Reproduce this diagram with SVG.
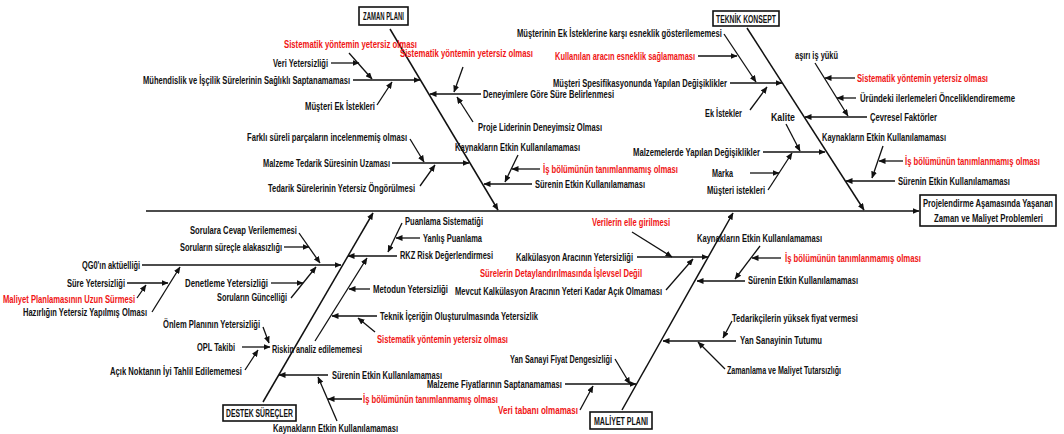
<svg xmlns="http://www.w3.org/2000/svg" width="1064" height="434" viewBox="0 0 1064 434">
<style>
text{font-family:"Liberation Sans Narrow","Liberation Sans",Arial,sans-serif;font-weight:bold;font-size:11px;fill:#111}
.r{fill:#f01414}
.bx{fill:#fff;stroke:#111;stroke-width:1.6}
.c line{stroke:#111;stroke-width:1.3;marker-end:url(#a)}
.c line.m{stroke-width:1.5}
</style>
<defs>
<marker id="a" markerWidth="7" markerHeight="6" refX="6.5" refY="3" orient="auto" markerUnits="userSpaceOnUse"><path d="M0,0 L7,3 L0,6 z" fill="#111"/></marker>
</defs>
<rect width="1064" height="434" fill="#fff"/>
<g id="connectors" class="c">
<line class="m" x1="146" y1="211" x2="919" y2="211"/>
<!-- ZAMAN -->
<line class="m" x1="390" y1="29" x2="498" y2="210"/>
<line x1="353" y1="80" x2="420" y2="80"/>
<line x1="349" y1="53" x2="372" y2="79"/>
<line x1="331" y1="63" x2="359" y2="63"/>
<line x1="377" y1="105" x2="392" y2="82"/>
<line x1="481" y1="94" x2="430" y2="94"/>
<line x1="463" y1="67" x2="454" y2="92"/>
<line x1="473" y1="122" x2="457" y2="97"/>
<line x1="410" y1="139" x2="424" y2="162"/>
<line x1="392" y1="163" x2="469" y2="163"/>
<line x1="420" y1="186" x2="435" y2="165"/>
<line x1="540" y1="169" x2="512" y2="169"/>
<line x1="518" y1="155" x2="505" y2="182"/>
<line x1="532" y1="184" x2="484" y2="184"/>
<!-- TEKNIK -->
<line class="m" x1="747" y1="28" x2="864" y2="210"/>
<line x1="724" y1="34" x2="756" y2="82"/>
<line x1="698" y1="56" x2="737" y2="56"/>
<line x1="730" y1="83" x2="782" y2="83"/>
<line x1="750" y1="110" x2="767" y2="87"/>
<line x1="815" y1="63" x2="848" y2="116"/>
<line x1="855" y1="78" x2="825" y2="78"/>
<line x1="856" y1="98" x2="837" y2="98"/>
<line x1="867" y1="117" x2="805" y2="117"/>
<line x1="786" y1="124" x2="800" y2="151"/>
<line x1="763" y1="152" x2="825" y2="152"/>
<line x1="750" y1="173" x2="779" y2="173"/>
<line x1="768" y1="190" x2="792" y2="153"/>
<line x1="883" y1="146" x2="872" y2="178"/>
<line x1="903" y1="161" x2="879" y2="161"/>
<line x1="895" y1="181" x2="846" y2="181"/>
<!-- DESTEK -->
<line class="m" x1="263" y1="402" x2="373" y2="213"/>
<line x1="299" y1="233" x2="320" y2="263"/>
<line x1="284" y1="247" x2="309" y2="247"/>
<line x1="142" y1="265" x2="341" y2="265"/>
<line x1="271" y1="283" x2="303" y2="283"/>
<line x1="291" y1="298" x2="316" y2="267"/>
<line x1="127" y1="283" x2="168" y2="283"/>
<line x1="152" y1="312" x2="180" y2="267"/>
<line x1="137" y1="298" x2="146" y2="285"/>
<line x1="263" y1="327" x2="269" y2="343"/>
<line x1="242" y1="347" x2="270" y2="347"/>
<line x1="245" y1="370" x2="258" y2="350"/>
<line x1="315" y1="341" x2="367" y2="258"/>
<line x1="402" y1="223" x2="388" y2="252"/>
<line x1="420" y1="238" x2="396" y2="238"/>
<line x1="397" y1="256" x2="348" y2="256"/>
<line x1="370" y1="289" x2="349" y2="289"/>
<line x1="377" y1="316" x2="332" y2="316"/>
<line x1="375" y1="332" x2="358" y2="318"/>
<line x1="328" y1="375" x2="279" y2="375"/>
<line x1="362" y1="399" x2="328" y2="399"/>
<line x1="337" y1="421" x2="318" y2="377"/>
<!-- MALIYET -->
<line class="m" x1="622" y1="410" x2="733" y2="213"/>
<line x1="632" y1="232" x2="672" y2="257"/>
<line x1="637" y1="257" x2="708" y2="257"/>
<line x1="666" y1="290" x2="693" y2="259"/>
<line x1="760" y1="246" x2="735" y2="279"/>
<line x1="781" y1="258" x2="752" y2="258"/>
<line x1="745" y1="281" x2="697" y2="281"/>
<line x1="732" y1="321" x2="723" y2="338"/>
<line x1="736" y1="341" x2="663" y2="341"/>
<line x1="725" y1="369" x2="698" y2="342"/>
<line x1="615" y1="359" x2="630" y2="384"/>
<line x1="565" y1="384" x2="636" y2="384"/>
<line x1="580" y1="410" x2="593" y2="386"/>
</g>
<!-- effect -->
<g id="effect"><rect class="bx" x="920" y="195" width="136" height="31"/>
<text x="923" y="207" textLength="130" lengthAdjust="spacingAndGlyphs">Projelendirme Aşamasında Yaşanan</text>
<text x="934" y="222" textLength="109" lengthAdjust="spacingAndGlyphs">Zaman ve Maliyet Problemleri</text></g>
<!-- category boxes -->
<g id="cat-zaman"><rect class="bx" x="359" y="7" width="49" height="18"/><text x="363" y="20" textLength="41" lengthAdjust="spacingAndGlyphs">ZAMAN PLANI</text></g>
<g id="cat-teknik"><rect class="bx" x="713" y="11" width="66" height="15"/><text x="716" y="23" textLength="60" lengthAdjust="spacingAndGlyphs">TEKNİK KONSEPT</text></g>
<g id="cat-destek"><rect class="bx" x="223" y="405" width="73" height="16"/><text x="226" y="417" textLength="67" lengthAdjust="spacingAndGlyphs">DESTEK SÜREÇLER</text></g>
<g id="cat-maliyet"><rect class="bx" x="590" y="412" width="62" height="17"/><text x="594" y="425" textLength="54" lengthAdjust="spacingAndGlyphs">MALİYET PLANI</text></g>
<!-- ZAMAN nodes -->
<g id="z1"><text class="r" x="284" y="48" textLength="133" lengthAdjust="spacingAndGlyphs">Sistematik yöntemin yetersiz olması</text></g>
<g id="z2"><text x="273" y="67" textLength="55" lengthAdjust="spacingAndGlyphs">Veri Yetersizliği</text></g>
<g id="z3"><text x="143" y="84" textLength="207" lengthAdjust="spacingAndGlyphs">Mühendislik ve İşçilik Sürelerinin Sağlıklı Saptanamaması</text></g>
<g id="z4"><text x="305" y="110" textLength="70" lengthAdjust="spacingAndGlyphs">Müşteri Ek İstekleri</text></g>
<g id="z5"><text class="r" x="400" y="57" textLength="133" lengthAdjust="spacingAndGlyphs">Sistematik yöntemin yetersiz olması</text></g>
<g id="z6"><text x="483" y="98" textLength="131" lengthAdjust="spacingAndGlyphs">Deneyimlere Göre Süre Belirlenmesi</text></g>
<g id="z7"><text x="478" y="131" textLength="124" lengthAdjust="spacingAndGlyphs">Proje Liderinin Deneyimsiz Olması</text></g>
<g id="z8"><text x="247" y="141" textLength="160" lengthAdjust="spacingAndGlyphs">Farklı süreli parçaların incelenmemiş olması</text></g>
<g id="z9"><text x="455" y="151" textLength="125" lengthAdjust="spacingAndGlyphs">Kaynakların Etkin Kullanılamaması</text></g>
<g id="z10"><text x="263" y="167" textLength="127" lengthAdjust="spacingAndGlyphs">Malzeme Tedarik Süresinin Uzaması</text></g>
<g id="z11"><text x="268" y="192" textLength="147" lengthAdjust="spacingAndGlyphs">Tedarik Sürelerinin Yetersiz Öngörülmesi</text></g>
<g id="z12"><text class="r" x="543" y="173" textLength="135" lengthAdjust="spacingAndGlyphs">İş bölümünün tanımlanmamış olması</text></g>
<g id="z13"><text x="535" y="188" textLength="110" lengthAdjust="spacingAndGlyphs">Sürenin Etkin Kullanılamaması</text></g>
<!-- TEKNIK nodes -->
<g id="t1"><text x="517" y="37" textLength="205" lengthAdjust="spacingAndGlyphs">Müşterinin Ek İsteklerine karşı esneklik gösterilememesi</text></g>
<g id="t2"><text class="r" x="555" y="60" textLength="140" lengthAdjust="spacingAndGlyphs">Kullanılan aracın esneklik sağlamaması</text></g>
<g id="t3"><text x="553" y="87" textLength="174" lengthAdjust="spacingAndGlyphs">Müşteri Spesifikasyonunda Yapılan Değişiklikler</text></g>
<g id="t4"><text x="705" y="117" textLength="37" lengthAdjust="spacingAndGlyphs">Ek İstekler</text></g>
<g id="t5"><text x="795" y="59" textLength="43" lengthAdjust="spacingAndGlyphs">aşırı iş yükü</text></g>
<g id="t6"><text class="r" x="857" y="82" textLength="131" lengthAdjust="spacingAndGlyphs">Sistematik yöntemin yetersiz olması</text></g>
<g id="t7"><text x="860" y="102" textLength="155" lengthAdjust="spacingAndGlyphs">Üründeki ilerlemeleri Önceliklendirememe</text></g>
<g id="t8"><text x="870" y="121" textLength="67" lengthAdjust="spacingAndGlyphs">Çevresel Faktörler</text></g>
<g id="t9"><text x="771" y="121" textLength="24" lengthAdjust="spacingAndGlyphs">Kalite</text></g>
<g id="t10"><text x="822" y="141" textLength="124" lengthAdjust="spacingAndGlyphs">Kaynakların Etkin Kullanılamaması</text></g>
<g id="t11"><text class="r" x="905" y="165" textLength="135" lengthAdjust="spacingAndGlyphs">İş bölümünün tanımlanmamış olması</text></g>
<g id="t12"><text x="898" y="185" textLength="112" lengthAdjust="spacingAndGlyphs">Sürenin Etkin Kullanılamaması</text></g>
<g id="t13"><text x="633" y="156" textLength="127" lengthAdjust="spacingAndGlyphs">Malzemelerde Yapılan Değişiklikler</text></g>
<g id="t14"><text x="712" y="177" textLength="21" lengthAdjust="spacingAndGlyphs">Marka</text></g>
<g id="t15"><text x="707" y="194" textLength="58" lengthAdjust="spacingAndGlyphs">Müşteri istekleri</text></g>
<!-- DESTEK nodes -->
<g id="d1"><text x="190" y="234" textLength="107" lengthAdjust="spacingAndGlyphs">Sorulara Cevap Verilememesi</text></g>
<g id="d2"><text x="180" y="251" textLength="102" lengthAdjust="spacingAndGlyphs">Soruların süreçle alakasızlığı</text></g>
<g id="d3"><text x="82" y="269" textLength="58" lengthAdjust="spacingAndGlyphs">QG0'ın aktüelliği</text></g>
<g id="d4"><text x="67" y="287" textLength="58" lengthAdjust="spacingAndGlyphs">Süre Yetersizliği</text></g>
<g id="d5"><text x="185" y="287" textLength="83" lengthAdjust="spacingAndGlyphs">Denetleme Yetersizliği</text></g>
<g id="d6"><text x="217" y="301" textLength="70" lengthAdjust="spacingAndGlyphs">Soruların Güncelliği</text></g>
<g id="d7"><text class="r" x="3" y="303" textLength="132" lengthAdjust="spacingAndGlyphs">Maliyet Planlamasının Uzun Sürmesi</text></g>
<g id="d8"><text x="23" y="316" textLength="124" lengthAdjust="spacingAndGlyphs">Hazırlığın Yetersiz Yapılmış Olması</text></g>
<g id="d9"><text x="163" y="328" textLength="97" lengthAdjust="spacingAndGlyphs">Önlem Planının Yetersizliği</text></g>
<g id="d10"><text x="197" y="351" textLength="38" lengthAdjust="spacingAndGlyphs">OPL Takibi</text></g>
<g id="d11"><text x="110" y="375" textLength="132" lengthAdjust="spacingAndGlyphs">Açık Noktanın İyi Tahlil Edilememesi</text></g>
<g id="d12"><text x="272" y="353" textLength="90" lengthAdjust="spacingAndGlyphs">Riskin analiz edilememesi</text></g>
<g id="d13"><text x="405" y="225" textLength="78" lengthAdjust="spacingAndGlyphs">Puanlama Sistematiği</text></g>
<g id="d14"><text x="423" y="242" textLength="59" lengthAdjust="spacingAndGlyphs">Yanlış Puanlama</text></g>
<g id="d15"><text x="400" y="259" textLength="93" lengthAdjust="spacingAndGlyphs">RKZ Risk Değerlendirmesi</text></g>
<g id="d16"><text x="373" y="293" textLength="75" lengthAdjust="spacingAndGlyphs">Metodun Yetersizliği</text></g>
<g id="d17"><text x="380" y="320" textLength="158" lengthAdjust="spacingAndGlyphs">Teknik İçeriğin Oluşturulmasında Yetersizlik</text></g>
<g id="d18"><text class="r" x="377" y="343" textLength="131" lengthAdjust="spacingAndGlyphs">Sistematik yöntemin yetersiz olması</text></g>
<g id="d19"><text x="332" y="379" textLength="110" lengthAdjust="spacingAndGlyphs">Sürenin Etkin Kullanılamaması</text></g>
<g id="d20"><text class="r" x="363" y="403" textLength="135" lengthAdjust="spacingAndGlyphs">İş bölümünün tanımlanmamış olması</text></g>
<g id="d21"><text x="273" y="432" textLength="125" lengthAdjust="spacingAndGlyphs">Kaynakların Etkin Kullanılamaması</text></g>
<!-- MALIYET nodes -->
<g id="m1"><text class="r" x="592" y="226" textLength="78" lengthAdjust="spacingAndGlyphs">Verilerin elle girilmesi</text></g>
<g id="m2"><text x="516" y="261" textLength="117" lengthAdjust="spacingAndGlyphs">Kalkülasyon Aracının Yetersizliği</text></g>
<g id="m3"><text class="r" x="480" y="277" textLength="162" lengthAdjust="spacingAndGlyphs">Sürelerin Detaylandırılmasında İşlevsel Değil</text></g>
<g id="m4"><text x="455" y="295" textLength="207" lengthAdjust="spacingAndGlyphs">Mevcut Kalkülasyon Aracının Yeteri Kadar Açık Olmaması</text></g>
<g id="m5"><text x="697" y="242" textLength="125" lengthAdjust="spacingAndGlyphs">Kaynakların Etkin Kullanılamaması</text></g>
<g id="m6"><text class="r" x="785" y="262" textLength="136" lengthAdjust="spacingAndGlyphs">İş bölümünün tanımlanmamış olması</text></g>
<g id="m7"><text x="748" y="284" textLength="110" lengthAdjust="spacingAndGlyphs">Sürenin Etkin Kullanılamaması</text></g>
<g id="m8"><text x="732" y="322" textLength="126" lengthAdjust="spacingAndGlyphs">Tedarikçilerin yüksek fiyat vermesi</text></g>
<g id="m9"><text x="740" y="344" textLength="82" lengthAdjust="spacingAndGlyphs">Yan Sanayinin Tutumu</text></g>
<g id="m10"><text x="727" y="374" textLength="114" lengthAdjust="spacingAndGlyphs">Zamanlama ve Maliyet Tutarsızlığı</text></g>
<g id="m11"><text x="510" y="363" textLength="102" lengthAdjust="spacingAndGlyphs">Yan Sanayi Fiyat Dengesizliği</text></g>
<g id="m12"><text x="427" y="388" textLength="135" lengthAdjust="spacingAndGlyphs">Malzeme Fiyatlarının Saptanamaması</text></g>
<g id="m13"><text class="r" x="498" y="414" textLength="80" lengthAdjust="spacingAndGlyphs">Veri tabanı olmaması</text></g>
</svg>
